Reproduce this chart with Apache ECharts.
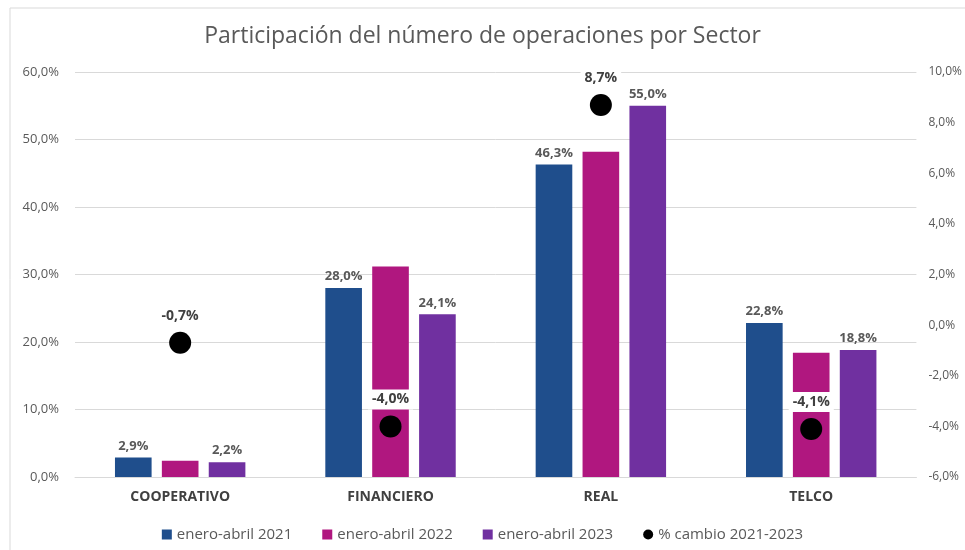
<!DOCTYPE html>
<html>
<head>
<meta charset="utf-8">
<script src="https://cdn.jsdelivr.net/npm/echarts@6/dist/echarts.min.js"></script>
<style>
  html, body { margin: 0; padding: 0; background: #ffffff; }
  #chart { width: 965px; height: 550px; }
</style>
</head>
<body>
<div id="chart"></div>
<script>
// datos
const sectores = ['COOPERATIVO', 'FINANCIERO', 'REAL', 'TELCO'];
const ea2021 = [2.9, 28.0, 46.3, 22.8];
const ea2022 = [2.4, 31.2, 48.2, 18.4];
const ea2023 = [2.2, 24.1, 55.0, 18.8];
const cambio = [-0.7, -4.0, 8.7, -4.1];
const nombres = ['enero-abril 2021', 'enero-abril 2022', 'enero-abril 2023', '% cambio 2021-2023'];

const fuente = 'Open Sans';
const fmt = v => v.toFixed(1).replace('.', ',') + '%';

let chart = echarts.init(document.getElementById('chart'));

let barLabel = {
  show: true,
  position: 'top',
  distance: 5,
  fontFamily: fuente,
  fontSize: 13,
  fontWeight: 'bold',
  color: '#595959',
  formatter: p => fmt(p.value)
};

let option = {
  animation: false,
  backgroundColor: '#ffffff',
  graphic: [
    {
      type: 'rect',
      shape: { x: 10, y: 8, width: 970, height: 560 },
      style: { fill: 'none', stroke: '#d9d9d9', lineWidth: 1 },
      z: -1
    }
  ],
  title: {
    text: 'Participación del número de operaciones por Sector',
    left: 'center',
    top: 20,
    textStyle: { fontFamily: fuente, fontSize: 23, fontWeight: 'normal', color: '#595959' }
  },
  legend: {
    bottom: 3,
    left: 'center',
    itemWidth: 10,
    itemHeight: 10,
    itemGap: 30,
    textStyle: { fontFamily: fuente, fontSize: 15, color: '#595959' },
    data: [
      { name: nombres[0], icon: 'rect' },
      { name: nombres[1], icon: 'rect' },
      { name: nombres[2], icon: 'rect' },
      { name: nombres[3], icon: 'circle', itemStyle: { color: '#000', opacity: 1 } }
    ]
  },
  grid: { left: 75, right: 46, top: 72, bottom: 73 },
  xAxis: {
    type: 'category',
    data: sectores,
    axisLine: { lineStyle: { color: '#d9d9d9', width: 1 } },
    axisTick: { show: false },
    axisLabel: { fontFamily: fuente, fontSize: 14, fontWeight: 'bold', color: '#404040', margin: 13 }
  },
  yAxis: [
    {
      type: 'value',
      min: 0, max: 60, interval: 10,
      axisLine: { show: false },
      axisTick: { show: false },
      splitLine: { lineStyle: { color: '#d9d9d9', width: 1 } },
      axisLabel: { fontFamily: fuente, fontSize: 13, color: '#595959', margin: 16, formatter: v => fmt(v) }
    },
    {
      type: 'value',
      min: -6, max: 10, interval: 2,
      axisLine: { show: false },
      axisTick: { show: false },
      splitLine: { show: false },
      axisLabel: { fontFamily: fuente, fontSize: 12, color: '#595959', margin: 12, formatter: v => fmt(v) }
    }
  ],
  series: [
    {
      name: nombres[0], type: 'bar', data: ea2021,
      barGap: '28%', barCategoryGap: '38%',
      itemStyle: { color: '#1f4e8c' },
      label: barLabel
    },
    {
      name: nombres[1], type: 'bar', data: ea2022,
      itemStyle: { color: '#b0177f' },
      label: { show: false }
    },
    {
      name: nombres[2], type: 'bar', data: ea2023,
      itemStyle: { color: '#7030a0' },
      label: barLabel
    },
    {
      name: nombres[3], type: 'scatter', yAxisIndex: 1, data: cambio,
      symbolSize: 22,
      itemStyle: { color: '#000000', opacity: 1 },
      z: 5,
      label: {
        show: true,
        position: 'top',
        distance: 6,
        fontFamily: fuente,
        fontSize: 14,
        fontWeight: 'bold',
        color: '#404040',
        backgroundColor: '#ffffff',
        padding: [3, 4, 3, 4],
        formatter: p => fmt(p.value)
      }
    }
  ]
};

chart.setOption(option);
</script>
</body>
</html>
